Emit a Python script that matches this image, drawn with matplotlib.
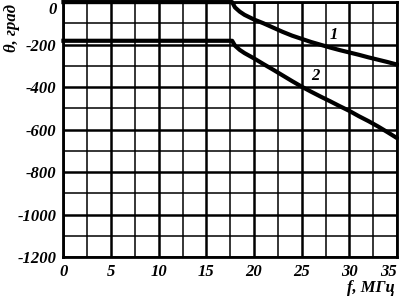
import numpy as np
import matplotlib.pyplot as plt

plt.rcParams['axes.unicode_minus'] = False

# curve 1: phase shift of the first mode
f1 = [0, 17.7, 18.0, 18.5, 19.0, 20.0, 21.0, 22.0, 23.0, 24.0, 25.0,
      26.0, 27.0, 28.0, 29.0, 30.0, 31.0, 32.0, 33.0, 34.0, 35.0]
th1 = [0, 0, -25, -45, -60, -82, -100, -120, -140, -158, -173,
       -188, -201, -214, -226, -237, -248, -260, -271, -282, -294]

# curve 2
f2 = [0, 17.7, 18.0, 18.5, 19.0, 20.0, 21.0, 22.0, 23.0, 24.0, 25.0,
      26.0, 27.0, 28.0, 29.0, 30.0, 31.0, 32.0, 33.0, 34.0, 35.0]
th2 = [-182, -182, -205, -225, -240, -265, -292, -318, -345, -372, -398,
       -422, -445, -467, -490, -512, -537, -560, -585, -612, -640]

xticks = [0, 5, 10, 15, 20, 25, 30, 35]
yticks = [0, -200, -400, -600, -800, -1000, -1200]

fnt = dict(family='Liberation Serif', style='italic', weight='bold', size=12)

fig = plt.figure(figsize=(3.99, 3.0), dpi=100)
ax = fig.add_axes([0.159, 0.143, 0.836, 0.850])

ax.plot(f1, th1, color='black', lw=3.0, clip_on=False, zorder=3)
ax.plot(f2, th2, color='black', lw=3.0, clip_on=False, zorder=3)

ax.set_xlim(0, 35)
ax.set_ylim(-1200, 0)

ax.set_xticks(xticks)
ax.set_yticks(yticks)
ax.set_xticks(np.arange(0, 35.1, 2.5), minor=True)
ax.set_yticks(np.arange(-1200, 1, 100), minor=True)
ax.grid(which='major', color='black', lw=1.8)
ax.grid(which='minor', color='black', lw=1.1)
ax.tick_params(which='both', length=0, pad=5)
for lab in ax.get_xticklabels() + ax.get_yticklabels():
    lab.set_fontproperties(fnt)
ax.get_xticklabels()[-1].set_horizontalalignment('right')
ax.get_yticklabels()[0].set_verticalalignment('top')
for s in ax.spines.values():
    s.set_linewidth(2.0)

ax.text(28.4, -155, '1', fontdict=fnt, ha='center', va='center')
ax.text(26.4, -350, '2', fontdict=fnt, ha='center', va='center')

fig.text(0.99, 0.015, 'f, МГц', fontdict=fnt, ha='right', va='bottom')
fig.text(0.03, 0.985, 'θ, град', fontdict=fnt, ha='center', va='top',
         rotation=90)

fig.savefig('out.png', dpi=100)
